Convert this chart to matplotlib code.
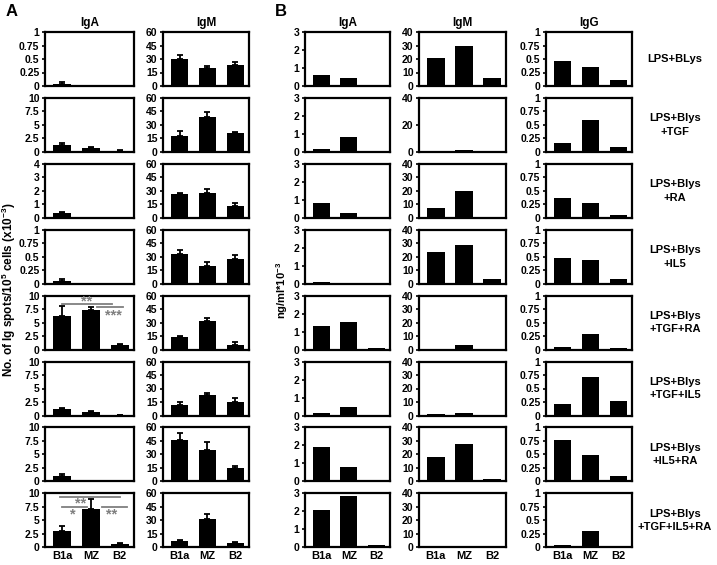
import matplotlib
matplotlib.use("Agg")
import matplotlib.pyplot as plt

plt.rcParams['font.family'] = ['Liberation Sans', 'DejaVu Sans']
plt.rcParams['mathtext.fontset'] = 'custom'
plt.rcParams['mathtext.bf'] = 'Liberation Sans:bold'
plt.rcParams['mathtext.rm'] = 'Liberation Sans'
plt.rcParams['mathtext.default'] = 'bf'

cells = ["B1a", "MZ", "B2"]
conditions = ["LPS+BLys", "LPS+Blys\n+TGF", "LPS+Blys\n+RA", "LPS+Blys\n+IL5",
              "LPS+Blys\n+TGF+RA", "LPS+Blys\n+TGF+IL5", "LPS+Blys\n+IL5+RA",
              "LPS+Blys\n+TGF+IL5+RA"]

# Panel A: ELISPOT IgA
a_iga = [[0.04, 0, 0], [1.2, 0.8, 0.2], [0.35, 0.02, 0], [0.05, 0, 0],
         [6.2, 7.4, 0.8], [1.2, 0.7, 0.1], [1.0, 0.05, 0], [3.0, 7.1, 0.6]]
a_iga_err = [[0.03, 0, 0], [0.4, 0.2, 0.15], [0.05, 0, 0], [0.04, 0, 0],
             [1.8, 0.4, 0.2], [0.2, 0.2, 0.05], [0.3, 0, 0], [0.9, 1.9, 0.15]]
a_iga_ymax = [1, 10, 4, 1, 10, 10, 10, 10]
# Panel A: ELISPOT IgM
a_igm = [[30, 20, 23.5], [17.5, 39, 21], [26, 28, 13.5], [32.5, 20, 27],
         [14, 31.5, 5], [12, 23, 15.5], [46, 34.5, 15], [7, 32, 4.5]]
a_igm_err = [[4, 2, 3], [6, 5, 1.5], [2, 4, 3], [5, 4, 4.5],
             [1.5, 4, 3], [3.5, 1.5, 4], [7.5, 9, 2], [1.5, 5, 1]]
# Panel B: ELISA
b_iga = [[0.6, 0.45, 0], [0.18, 0.85, 0], [0.8, 0.28, 0], [0.1, 0.06, 0],
         [1.3, 1.55, 0.1], [0.15, 0.45, 0.03], [1.9, 0.8, 0], [2.05, 2.85, 0.12]]
b_igm = [[21, 29.5, 6], [0, 1.5, 0], [7.5, 19.5, 0.5], [23.5, 28.5, 3.5],
         [0, 3.5, 0], [0.8, 1.5, 0.3], [18, 27.5, 1.5], [0.5, 0.5, 0]]
b_igg = [[0.47, 0.36, 0.12], [0.16, 0.59, 0.1], [0.37, 0.27, 0.05], [0.48, 0.44, 0.08],
         [0.05, 0.29, 0.03], [0.21, 0.71, 0.26], [0.76, 0.48, 0.1], [0.04, 0.3, 0.02]]

W, H = 717, 565
fig = plt.figure(figsize=(W / 100, H / 100), dpi=100)

cols_px = [(45, 134), (163, 249), (305, 390), (419, 506), (546, 632)]
row_top0, pitch, rh = 32, 65.9, 54

def mk_ax(c, r):
    l, rr = cols_px[c]
    top = row_top0 + r * pitch
    return fig.add_axes([l / W, 1 - (top + rh) / H, (rr - l) / W, rh / H])

def style(ax, ymax, ticks, labels, bottom):
    ax.set_xlim(-0.6, 2.5)
    ax.set_ylim(0, ymax)
    ax.set_yticks(ticks)
    ax.set_yticklabels(labels, fontsize=7.5, fontweight='bold')
    ax.tick_params(axis='y', direction='out', length=2.5, width=1.2, pad=1.5)
    ax.tick_params(axis='x', length=0, pad=3)
    for s in ax.spines.values():
        s.set_linewidth(1.6)
    if bottom:
        ax.set_xticks(range(3))
        ax.set_xticklabels(cells, fontsize=8, fontweight='bold')
    else:
        ax.set_xticks([])

def ticks_for(ymax):
    if ymax == 1:
        return [0, 0.25, 0.5, 0.75, 1], ["0", "0.25", "0.5", "0.75", "1"]
    if ymax == 10:
        return [0, 2.5, 5, 7.5, 10], ["0", "2.5", "5", "7.5", "10"]
    return [0, 1, 2, 3, 4], ["0", "1", "2", "3", "4"]

bw = 0.62
x = [0, 1, 2]
g = '#7f7f7f'
sf = 10.5
for r in range(8):
    last = r == 7
    # A IgA
    ax = mk_ax(0, r)
    ax.bar(x, a_iga[r], width=bw, color='black',
           yerr=[[0, 0, 0], a_iga_err[r]], capsize=2.5,
           error_kw=dict(elinewidth=1.3, capthick=1.3, ecolor='black'))
    t, lb = ticks_for(a_iga_ymax[r])
    style(ax, a_iga_ymax[r], t, lb, last)
    if r == 0:
        ax.set_title("IgA", fontsize=8.5, fontweight='bold', pad=4)
    if r == 4:
        ax.plot([0, 1.73], [8.4, 8.4], color=g, lw=1.3, clip_on=False)
        ax.text(0.86, 7.6, "**", color=g, ha='center', va='bottom', fontsize=sf, fontweight='bold')
        ax.plot([1.21, 2.12], [7.8, 7.8], color=g, lw=1.3, clip_on=False)
        ax.text(1.80, 7.7, "***", color=g, ha='center', va='top', fontsize=sf, fontweight='bold')
    if r == 7:
        ax.plot([-0.08, 2.01], [9.3, 9.3], color=g, lw=1.3, clip_on=False)
        ax.text(0.65, 9.4, "**", color=g, ha='center', va='top', fontsize=sf, fontweight='bold')
        ax.plot([-0.01, 0.86], [7.5, 7.5], color=g, lw=1.3)
        ax.text(0.38, 7.4, "*", color=g, ha='center', va='top', fontsize=sf, fontweight='bold')
        ax.plot([1.39, 2.26], [7.5, 7.5], color=g, lw=1.3)
        ax.text(1.73, 7.4, "**", color=g, ha='center', va='top', fontsize=sf, fontweight='bold')
    # A IgM
    ax = mk_ax(1, r)
    ax.bar(x, a_igm[r], width=bw, color='black',
           yerr=[[0, 0, 0], a_igm_err[r]], capsize=2.5,
           error_kw=dict(elinewidth=1.3, capthick=1.3, ecolor='black'))
    style(ax, 60, [0, 15, 30, 45, 60], ["0", "15", "30", "45", "60"], last)
    if r == 0:
        ax.set_title("IgM", fontsize=8.5, fontweight='bold', pad=4)
    # B IgA
    ax = mk_ax(2, r)
    ax.bar(x, b_iga[r], width=bw, color='black')
    style(ax, 3, [0, 1, 2, 3], ["0", "1", "2", "3"], last)
    if r == 0:
        ax.set_title("IgA", fontsize=8.5, fontweight='bold', pad=4)
    # B IgM
    ax = mk_ax(3, r)
    ax.bar(x, b_igm[r], width=bw, color='black')
    if r == 1:
        style(ax, 40, [0, 20, 40], ["0", "20", "40"], last)
    else:
        style(ax, 40, [0, 10, 20, 30, 40], ["0", "10", "20", "30", "40"], last)
    if r == 0:
        ax.set_title("IgM", fontsize=8.5, fontweight='bold', pad=4)
    # B IgG
    ax = mk_ax(4, r)
    ax.bar(x, b_igg[r], width=bw, color='black')
    style(ax, 1, [0, 0.25, 0.5, 0.75, 1], ["0", "0.25", "0.5", "0.75", "1"], last)
    if r == 0:
        ax.set_title("IgG", fontsize=8.5, fontweight='bold', pad=4)
    # condition label
    yc = row_top0 + r * pitch + rh / 2
    fig.text(675 / W, 1 - yc / H, conditions[r], ha='center', va='center',
             fontsize=8, fontweight='bold', linespacing=1.45)

fig.text(12 / W, 1 - 11 / H, "A", fontsize=12, fontweight='bold', ha='center', va='center')
fig.text(281 / W, 1 - 11 / H, "B", fontsize=12, fontweight='bold', ha='center', va='center')
fig.text(9 / W, 1 - 290 / H, r"No. of Ig spots/10$^{5}$ cells (x10$^{-3}$)", rotation=90,
         ha='center', va='center', fontsize=8.5, fontweight='bold')
fig.text(282 / W, 1 - 290 / H, r"ng/ml*10$^{-3}$", rotation=90,
         ha='center', va='center', fontsize=8, fontweight='bold')

fig.savefig("out.png", dpi=100)
